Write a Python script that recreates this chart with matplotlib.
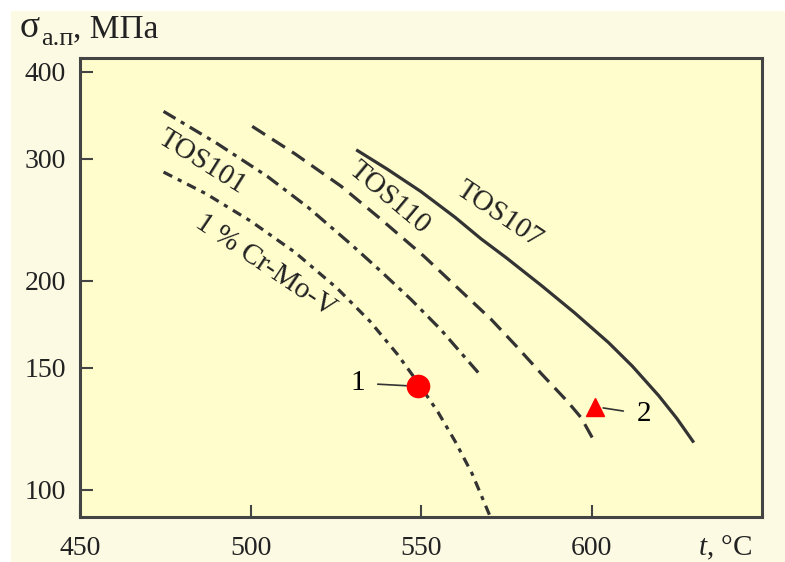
import matplotlib
matplotlib.use("Agg")
import matplotlib.pyplot as plt
from matplotlib.patches import Rectangle
from matplotlib.ticker import FixedLocator, NullLocator, FixedFormatter

plt.rcParams['font.family'] = ['Liberation Serif', 'DejaVu Serif']
plt.rcParams['mathtext.fontset'] = 'custom'
plt.rcParams['mathtext.rm'] = 'Liberation Serif'
plt.rcParams['mathtext.it'] = 'Liberation Serif:italic'
plt.rcParams['lines.scale_dashes'] = False

# curves (t in deg C, stress in MPa)
tos107_t = [531, 540, 550, 560, 567.6, 575, 585.3, 595, 605, 612, 619.7, 625, 630]
tos107_s = [309, 290, 269, 247, 230, 216, 197, 180, 163, 150.7, 136.7, 126.8, 117]

tos110_t = [500.5, 513, 526.5, 538, 550.9, 560, 570.6, 578, 585.3, 593, 597, 600.6]
tos110_s = [334, 305, 274, 246, 217, 197, 176, 161, 147, 134, 127, 118]

tos101_t = [474.5, 490, 504.9, 517, 529.4, 538, 547.1, 555.9, 562, 567.6]
tos101_s = [351, 316, 283, 255, 226, 207, 188, 170, 157, 146]

crmov_t = [474.5, 487, 500, 513, 525.5, 535, 543, 549, 555, 560, 565, 570.1]
crmov_s = [287, 267, 244, 220, 195, 175, 157, 143, 129.4, 117.5, 105.5, 92]

point1 = (549.0, 141)
point2 = (601.0, 131.8)

xticks = [450, 500, 550, 600]
yticks = [100, 150, 200, 300, 400]

W, H = 785, 562
fig = plt.figure(figsize=(W / 100, H / 100), dpi=100)
fig.patch.set_facecolor('white')
fig.add_artist(Rectangle((11 / W, 0), 1 - 11 / W, 1 - 11 / H,
                         transform=fig.transFigure, facecolor='#fdfae4',
                         edgecolor='none', zorder=0))

ax = fig.add_axes([80 / W, (H - 517) / H, (762 - 80) / W, (517 - 58) / H])
ax.set_facecolor('#fffdcc')
ax.set_yscale('log')
ax.set_xlim(450, 650)
ax.set_ylim(91.4, 419)

lc = '#333333'
lw = 2.3
ax.plot(tos107_t, tos107_s, color=lc, lw=lw, solid_capstyle='butt')
ax.plot(tos110_t, tos110_s, color=lc, lw=lw, dashes=(11, 6))
ax.plot(tos101_t, tos101_s, color=lc, lw=lw, dashes=(10, 4.5, 3, 4.5))
ax.plot(crmov_t, crmov_s, color=lc, lw=lw, dashes=(7, 4.5, 3, 4.5))

ax.plot(*point1, 'o', color='#ff0000', ms=16, zorder=5)
ax.plot(*point2, '^', color='#ff0000', ms=13, zorder=5)

ax.annotate('1', xy=point1, xytext=(531.5, 142.5), fontsize=21,
            ha='center', va='center',
            arrowprops=dict(arrowstyle='-', color=lc, lw=1.2,
                            shrinkA=7, shrinkB=8))
ax.annotate('2', xy=point2, xytext=(615.5, 128.5), fontsize=21,
            ha='center', va='center',
            arrowprops=dict(arrowstyle='-', color=lc, lw=1.2,
                            shrinkA=8, shrinkB=6))

tc = '#222222'
ax.text(573.0, 249, 'TOS107', fontsize=21, rotation=-34, color=tc,
        ha='center', va='center', rotation_mode='anchor')
ax.text(540.6, 263.5, 'TOS110', fontsize=21, rotation=-40, color=tc,
        ha='center', va='center', rotation_mode='anchor')
ax.text(485.8, 297, 'TOS101', fontsize=21, rotation=-32, color=tc,
        ha='center', va='center', rotation_mode='anchor')
ax.text(504.4, 210, '1 % Cr-Mo-V', fontsize=21, rotation=-34, color=tc,
        ha='center', va='center', rotation_mode='anchor')

ax.xaxis.set_major_locator(FixedLocator(xticks))
ax.yaxis.set_major_locator(FixedLocator(yticks))
ax.yaxis.set_major_formatter(FixedFormatter([str(v) for v in yticks]))
ax.yaxis.set_minor_locator(NullLocator())
ax.tick_params(direction='in', length=9, width=1.5, color='#444444',
               labelsize=20, labelcolor=tc)
ax.tick_params(axis='x', pad=14)
ax.tick_params(axis='y', pad=10)
for s in ax.spines.values():
    s.set_color('#444444')
    s.set_linewidth(2.2)

# y axis title: sigma with subscript, placed as separate pieces
fig.text(20 / W, 1 - 37 / H, 'σ', fontsize=27, color=tc, ha='left', va='baseline')
fig.text(41 / W, 1 - 45 / H, 'а.п', fontsize=19, color=tc, ha='left', va='baseline')
fig.text(73 / W, 1 - 37 / H, ', МПа', fontsize=24, color=tc, ha='left', va='baseline')
fig.text(725 / W, 1 - 548 / H, r'$t$, °C', fontsize=21, color=tc,
         ha='center', va='center')

fig.savefig('out.png', dpi=100, facecolor=fig.get_facecolor())
